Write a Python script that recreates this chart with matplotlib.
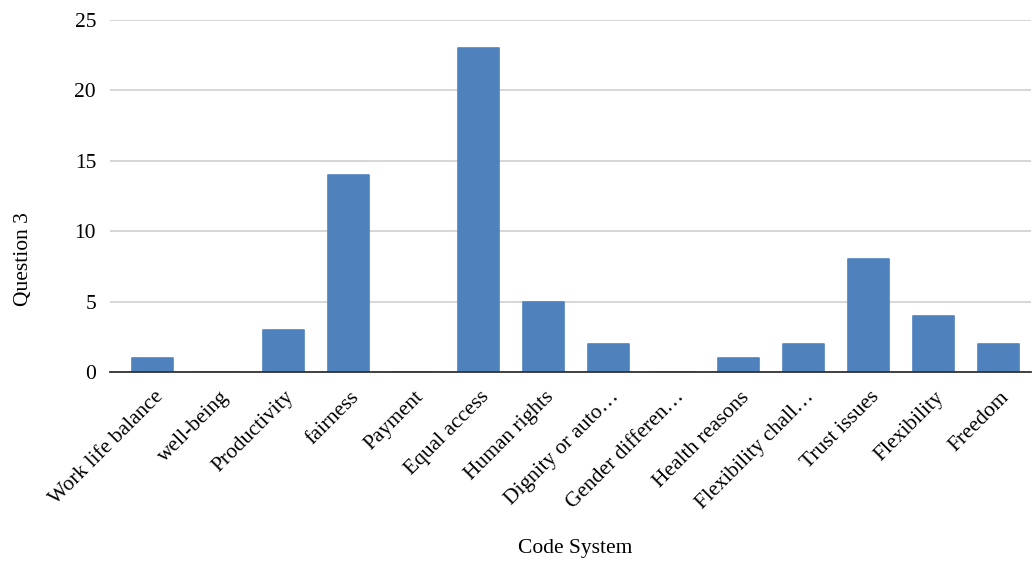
import matplotlib
matplotlib.use("Agg")
import matplotlib.pyplot as plt
from matplotlib.transforms import ScaledTranslation

categories = ["Work life balance", "well-being", "Productivity", "fairness", "Payment",
              "Equal access", "Human rights", "Dignity or auto\u2026", "Gender differen\u2026",
              "Health reasons", "Flexibility chall\u2026", "Trust issues", "Flexibility", "Freedom"]
counts = [1, 0, 3, 14, 0, 23, 5, 2, 0, 1, 2, 8, 4, 2]
y_ticks = [0, 5, 10, 15, 20, 25]

plt.rcParams["font.family"] = ["Liberation Serif", "DejaVu Serif"]
FS = 15.5
BAR_COLOR = "#4F81BD"

W, H = 1033, 562
left, right, top, bottom = 110, 1031, 20, 372
fig = plt.figure(figsize=(W / 100, H / 100), dpi=100)
ax = fig.add_axes([left / W, 1 - bottom / H, (right - left) / W, (bottom - top) / H])

x = list(range(len(categories)))
ax.bar(x, counts, width=0.63, color=BAR_COLOR, edgecolor=BAR_COLOR,
       linewidth=1.2, joinstyle="round", zorder=3)

ax.set_xlim(-0.66, len(categories) - 0.5)
ax.set_ylim(0, 25)
ax.set_yticks(y_ticks)
ax.set_yticklabels([str(t) for t in y_ticks], fontsize=FS)
ax.yaxis.grid(True, color="#D0D0D0", linewidth=1.2, zorder=0)
ax.set_axisbelow(True)

ax.set_xticks(x)
ax.set_xticklabels(categories, rotation=45, ha="right", va="center",
                   rotation_mode="anchor", fontsize=FS)
ax.tick_params(axis="both", length=0)
ax.tick_params(axis="x", pad=14)
ax.tick_params(axis="y", pad=10)
shift = ScaledTranslation(0.08, -0.03, fig.dpi_scale_trans)
for lbl in ax.get_xticklabels():
    lbl.set_transform(lbl.get_transform() + shift)

for side in ["top", "right", "left"]:
    ax.spines[side].set_visible(False)
ax.spines["bottom"].set_color("#333333")
ax.spines["bottom"].set_linewidth(1.3)
ax.spines["bottom"].set_zorder(4)

ax.set_ylabel("Question 3", fontsize=FS)
ax.set_xlabel("Code System", fontsize=FS)
ax.xaxis.label.set_va("center")
ax.yaxis.label.set_va("center")
ax.xaxis.set_label_coords((575 - left) / (right - left), -(549 - bottom) / (bottom - top))
ax.yaxis.set_label_coords(-(left - 24) / (right - left), (bottom - 259) / (bottom - top))

fig.savefig("out.png", dpi=100, facecolor="white")
